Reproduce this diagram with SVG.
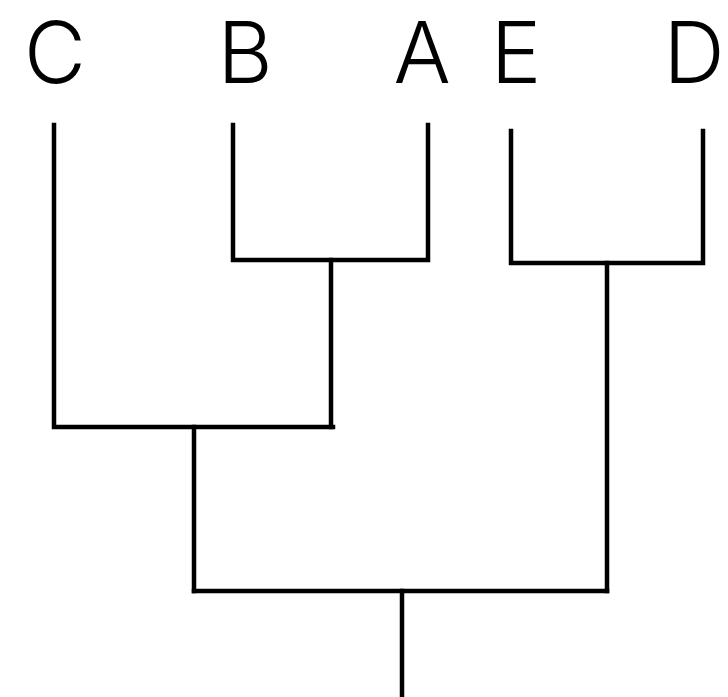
<svg xmlns="http://www.w3.org/2000/svg" width="728" height="697" viewBox="0 0 728 697">
  <style>
    .label { font-family: "Inter", "Liberation Sans", sans-serif; font-weight: 300; font-size: 85px; fill: #000; text-anchor: middle; }
    .edge { fill: none; stroke: #000; stroke-width: 4.5; stroke-linecap: square; stroke-linejoin: miter; }
  </style>
  <rect width="728" height="697" fill="#fff"/>
  <g id="leaf-C"><text class="label" x="55" y="83">C</text></g>
  <g id="leaf-B"><text class="label" x="245" y="83">B</text></g>
  <g id="leaf-A"><text class="label" x="422" y="83">A</text></g>
  <g id="leaf-E"><text class="label" x="516" y="83">E</text></g>
  <g id="leaf-D"><text class="label" x="694" y="83">D</text></g>
  <g id="connectors">
    <!-- B + A -->
    <path class="edge" d="M233 125 V260 H428 V125"/>
    <path class="edge" d="M331 260 V427"/>
    <!-- C + (B,A) -->
    <path class="edge" d="M54 125 V427 H333"/>
    <path class="edge" d="M194 427 V591"/>
    <!-- E + D -->
    <path class="edge" d="M511 131 V263 H703 V131"/>
    <path class="edge" d="M607 263 V591"/>
    <!-- root -->
    <path class="edge" d="M194 591 H607"/>
    <path class="edge" d="M402 591 V700"/>
  </g>
</svg>
